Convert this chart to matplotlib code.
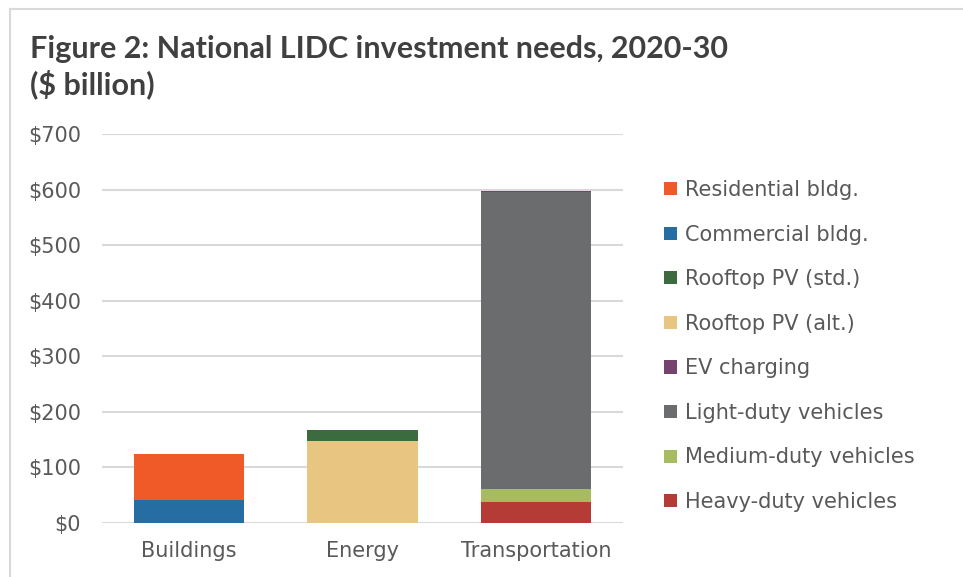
import matplotlib
matplotlib.use("Agg")
import matplotlib.pyplot as plt
from matplotlib.patches import Patch
from matplotlib.lines import Line2D

categories = ["Buildings", "Energy", "Transportation"]
# stacked bottom-up
series_names = ["Heavy-duty vehicles", "Medium-duty vehicles", "Light-duty vehicles",
                "EV charging", "Rooftop PV (alt.)", "Rooftop PV (std.)",
                "Commercial bldg.", "Residential bldg."]
heavy = [0, 0, 37]
medium = [0, 0, 25]
light = [0, 0, 534]
ev = [0, 0, 2]
pv_alt = [0, 148, 0]
pv_std = [0, 20, 0]
commercial = [42, 0, 0]
residential = [82, 0, 0]
series_values = [heavy, medium, light, ev, pv_alt, pv_std, commercial, residential]
colors = ["#B53B36", "#A7BB60", "#6B6C6E", "#76426E", "#E8C581", "#3B6B3E",
          "#256DA2", "#F05A28"]
yticks = [0, 100, 200, 300, 400, 500, 600, 700]
ytick_labels = ["$" + str(v) for v in yticks]
title = "Figure 2: National LIDC investment needs, 2020-30\n($ billion)"

plt.rcParams['font.family'] = ['DejaVu Sans']
text_color = "#595959"

fig = plt.figure(figsize=(9.63, 5.77), dpi=100)
ax = fig.add_axes([102/963, 1-523/577, (623-102)/963, (523-134)/577])

x = list(range(len(categories)))
bottom = [0, 0, 0]
for vals, col, name in zip(series_values, colors, series_names):
    ax.bar(x, vals, width=0.635, bottom=bottom, color=col, label=name, zorder=3)
    bottom = [b + v for b, v in zip(bottom, vals)]

ax.set_xlim(-0.5, 2.5)
ax.set_ylim(0, 700)
ax.set_yticks(yticks)
ax.set_yticklabels(ytick_labels)
ax.set_xticks(x)
ax.set_xticklabels(categories)
ax.grid(axis='y', color="#D9D9D9", linewidth=1.5, zorder=0)
ax.set_axisbelow(True)
for s in ax.spines.values():
    s.set_visible(False)
ax.tick_params(axis='both', length=0, colors=text_color, labelsize=15)
ax.tick_params(axis='y', pad=15)
ax.tick_params(axis='x', pad=13)

handles = [Patch(facecolor=c, edgecolor='none') for c in colors][::-1]
labels = series_names[::-1]
fig.legend(handles, labels, loc='upper left', bbox_to_anchor=(664/963, 1-180/577),
           frameon=False, fontsize=15, handlelength=0.6, handleheight=0.6,
           handletextpad=0.4, labelspacing=1.18, labelcolor=text_color,
           borderaxespad=0, borderpad=0)

fig.text(30/963, 1-35/577, title, fontsize=22, fontweight='bold', color="#404040",
         va='top', ha='left', linespacing=1.25, family=['Lato', 'DejaVu Sans'])

# chart border
fig.add_artist(Line2D([10/963, 1], [1-9/577, 1-9/577], color="#D9D9D9", lw=1.5))
fig.add_artist(Line2D([10/963, 10/963], [0, 1-9/577], color="#D9D9D9", lw=1.5))

fig.savefig("out.png", dpi=100)
